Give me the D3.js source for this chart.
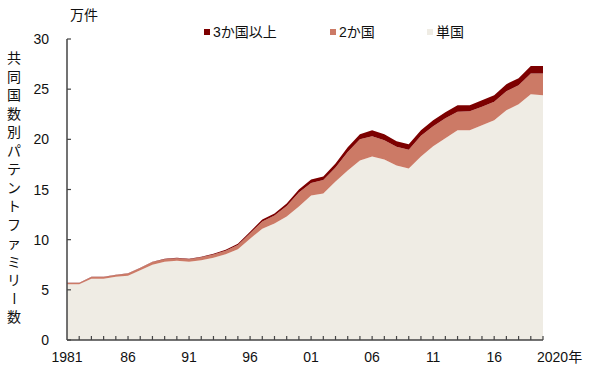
<!DOCTYPE html>
<html>
<head>
<meta charset="utf-8">
<script src="https://cdn.jsdelivr.net/npm/d3@7"></script>
<style>
  body { margin: 0; background: #fff; }
  text { font-family: "Liberation Sans", "Noto Sans CJK JP", sans-serif; fill: #111; }
</style>
</head>
<body>
<script>
// years on the x axis
var years = d3.range(1981, 2021);
var xLabels = ["1981", "86", "91", "96", "01", "06", "11", "16", "2020年"];
var yTicks = [0, 5, 10, 15, 20, 25, 30];

// values in 万件
var single = [5.55, 5.55, 6.1, 6.1, 6.3, 6.4, 6.95, 7.5, 7.8, 7.9,
  7.8, 7.95, 8.2, 8.55, 9.05, 10.1, 11.1, 11.6, 12.3, 13.3,
  14.4, 14.6, 15.8, 16.9, 17.9, 18.3, 18.0, 17.4, 17.1, 18.3,
  19.3, 20.1, 20.9, 20.9, 21.4, 21.9, 22.9, 23.5, 24.5, 24.4];
var two = [0.13, 0.13, 0.18, 0.18, 0.18, 0.22, 0.22, 0.27, 0.26, 0.26,
  0.26, 0.30, 0.32, 0.35, 0.43, 0.55, 0.7, 0.8, 1.05, 1.4,
  1.25, 1.35, 1.4, 1.85, 2.1, 2.0, 1.9, 1.85, 1.85, 2.05,
  2.0, 2.0, 1.85, 1.9, 1.85, 1.85, 1.9, 1.9, 2.05, 2.15];
var three = [0.02, 0.02, 0.02, 0.02, 0.02, 0.03, 0.03, 0.03, 0.04, 0.04,
  0.04, 0.05, 0.08, 0.1, 0.12, 0.15, 0.2, 0.2, 0.25, 0.3,
  0.35, 0.35, 0.4, 0.45, 0.5, 0.6, 0.6, 0.55, 0.55, 0.55,
  0.6, 0.6, 0.65, 0.6, 0.65, 0.65, 0.7, 0.7, 0.75, 0.75];

var seriesNames = ["単国", "2か国", "3か国以上"];
var colors = ["#efece4", "#cc7a66", "#7d0000"];

var width = 600, height = 369;
var svg = d3.select("body").append("svg")
  .attr("width", width).attr("height", height);

var x = d3.scalePoint().domain(years).range([67, 543]);
var y = d3.scaleLinear().domain([0, 30]).range([340, 39]);

var rows = years.map(function(yr, i) {
  return {year: yr, "単国": single[i], "2か国": two[i], "3か国以上": three[i]};
});
var stacked = d3.stack().keys(seriesNames)(rows);

var area = d3.area()
  .x(function(d) { return x(d.data.year); })
  .y0(function(d) { return y(d[0]); })
  .y1(function(d) { return y(d[1]); });

svg.append("g").selectAll("path")
  .data(stacked)
  .enter().append("path")
  .attr("d", area)
  .attr("fill", function(d, i) { return colors[i]; });

// axes
var axisColor = "#444";
svg.append("line")
  .attr("x1", 67).attr("x2", 67).attr("y1", y(30)).attr("y2", y(0))
  .attr("stroke", axisColor).attr("stroke-width", 1.5);
svg.append("line")
  .attr("x1", 67).attr("x2", 543).attr("y1", y(0)).attr("y2", y(0))
  .attr("stroke", axisColor).attr("stroke-width", 1.5);

svg.append("g").selectAll("line")
  .data(yTicks)
  .enter().append("line")
  .attr("x1", 67).attr("x2", 71)
  .attr("y1", function(d) { return y(d); })
  .attr("y2", function(d) { return y(d); })
  .attr("stroke", axisColor).attr("stroke-width", 1.2);

svg.append("g").selectAll("line")
  .data(years.slice(1))
  .enter().append("line")
  .attr("x1", function(d) { return x(d); })
  .attr("x2", function(d) { return x(d); })
  .attr("y1", 340).attr("y2", 336)
  .attr("stroke", axisColor).attr("stroke-width", 1.2);

svg.append("g").selectAll("text")
  .data(yTicks)
  .enter().append("text")
  .attr("x", 49)
  .attr("y", function(d) { return y(d) + 5; })
  .attr("text-anchor", "end")
  .style("font-size", "14px")
  .text(function(d) { return d; });

svg.append("g").selectAll("text")
  .data(xLabels)
  .enter().append("text")
  .attr("x", function(d, i) { return i == xLabels.length - 1 ? 537 : x(1981 + i * 5); })
  .attr("y", 362)
  .attr("text-anchor", function(d, i) { return i == xLabels.length - 1 ? "start" : "middle"; })
  .style("font-size", "14px")
  .text(function(d) { return d; });

// unit
svg.append("text").attr("x", 70).attr("y", 20)
  .style("font-size", "14px").text("万件");

// vertical y title
var ylab = "共同国数別パテントファミリー数".split("");
svg.append("g").selectAll("text")
  .data(ylab)
  .enter().append("text")
  .attr("x", 14)
  .attr("y", function(d, i) { return 58 + i * 18.5 + 5; })
  .attr("text-anchor", "middle")
  .attr("transform", function(d, i) {
    return d == "ー" ? "rotate(90,14," + (58 + i * 18.5) + ")" : null;
  })
  .style("font-size", "14px")
  .text(function(d) { return d; });

// legend
var legend = [
  {name: "3か国以上", color: colors[2], x: 204},
  {name: "2か国", color: colors[1], x: 330},
  {name: "単国", color: colors[0], x: 427}
];
var lg = svg.append("g").selectAll("g").data(legend).enter().append("g");
lg.append("rect")
  .attr("x", function(d) { return d.x; }).attr("y", 29)
  .attr("width", 6).attr("height", 6)
  .attr("fill", function(d) { return d.color; });
lg.append("text")
  .attr("x", function(d) { return d.x + 9; }).attr("y", 37)
  .style("font-size", "14px")
  .text(function(d) { return d.name; });
</script>
</body>
</html>
